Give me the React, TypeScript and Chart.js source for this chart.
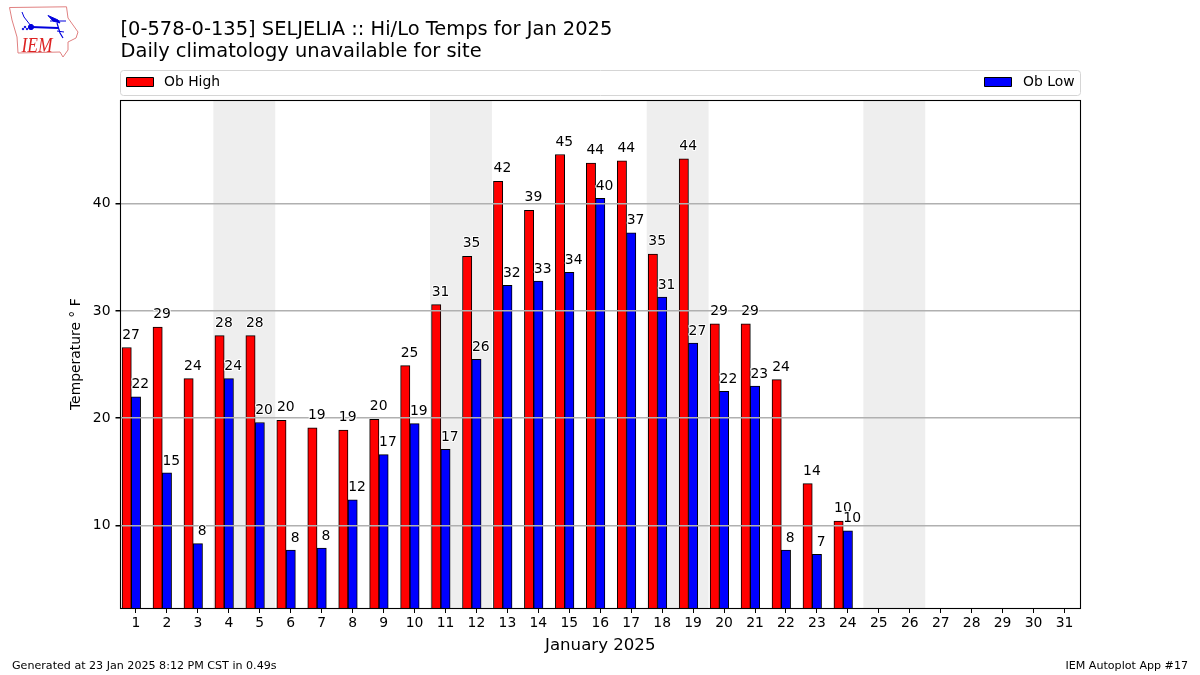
import React, { useEffect, useRef } from "react";
import { Chart, registerables } from "chart.js";

Chart.register(...registerables);

const days = [1,2,3,4,5,6,7,8,9,10,11,12,13,14,15,16,17,18,19,20,21,22,23,24];
const highs = [26.6,28.5,23.7,27.7,27.7,19.8,19.1,18.9,19.9,24.9,30.6,35.1,42.1,39.4,44.6,43.8,44.0,35.3,44.2,28.8,28.8,23.6,13.9,10.4];
const lows = [22.0,14.9,8.3,23.7,19.6,7.7,7.9,12.4,16.6,19.5,17.1,25.5,32.4,32.8,33.6,40.5,37.3,31.3,27.0,22.5,23.0,7.7,7.3,9.5];
const highLabels = [27,29,24,28,28,20,19,19,20,25,31,35,42,39,45,44,44,35,44,29,29,24,14,10];
const lowLabels = [22,15,8,24,20,8,8,12,17,19,17,26,32,33,34,40,37,31,27,22,23,8,7,10];
const weekends = [4,5,11,12,18,19,25,26];
const xTicks = Array.from({ length: 31 }, (_, i) => i + 1);
const yTicks = [10,20,30,40];
const titleLines = ["[0-578-0-135] SELJELIA :: Hi/Lo Temps for Jan 2025", "Daily climatology unavailable for site"];
const footerLeft = "Generated at 23 Jan 2025 8:12 PM CST in 0.49s";
const footerRight = "IEM Autoplot App #17";
const FONT = "'DejaVu Sans'";

const decorations = {
  id: "decorations",
  beforeDraw(chart: any) {
    const { ctx, chartArea: a, scales: { x } } = chart;
    ctx.save();
    ctx.fillStyle = "#eeeeee";
    for (let i = 0; i < weekends.length; i += 2) {
      const l = x.getPixelForValue(weekends[i] - 0.5);
      const r = x.getPixelForValue(weekends[i + 1] + 0.5);
      ctx.fillRect(l, a.top, r - l, a.bottom - a.top);
    }
    ctx.restore();
  },
  afterDraw(chart: any) {
    const { ctx, scales: { x, y } } = chart;
    ctx.save();
    ctx.strokeStyle = "#000";
    ctx.lineWidth = 1.1;
    ctx.strokeRect(120.5, 100.5, 960, 508);

    // value labels
    ctx.font = `13.9px ${FONT}`;
    ctx.textAlign = "center";
    ctx.textBaseline = "middle";
    ctx.lineJoin = "round";
    const put = (txt: string, px: number, py: number) => {
      ctx.strokeStyle = "#fff";
      ctx.lineWidth = 2;
      ctx.strokeText(txt, px, py);
      ctx.fillStyle = "#000";
      ctx.fillText(txt, px, py);
    };
    days.forEach((d, i) => {
      put(String(highLabels[i]), x.getPixelForValue(d - 0.16), y.getPixelForValue(highs[i]) - 12.5);
      put(String(lowLabels[i]), x.getPixelForValue(d + 0.14), y.getPixelForValue(lows[i]) - 12);
    });

    // legend
    ctx.strokeStyle = "#d5d5d5";
    ctx.lineWidth = 1;
    ctx.beginPath();
    ctx.roundRect(120.5, 70.5, 960, 25, 3);
    ctx.stroke();
    ctx.textAlign = "left";
    ctx.font = `13.9px ${FONT}`;
    const ds = chart.data.datasets;
    const swatch = (sx: number, color: string) => {
      ctx.fillStyle = color;
      ctx.fillRect(sx, 77.5, 27, 9);
      ctx.strokeStyle = "#000";
      ctx.strokeRect(sx, 77.5, 27, 9);
    };
    swatch(126.5, "#ff0000");
    ctx.fillStyle = "#000";
    ctx.fillText(ds[0].label, 164, 82);
    swatch(984.5, "#0000ff");
    ctx.fillStyle = "#000";
    ctx.fillText(ds[1].label, 1023, 82);

    // footer
    ctx.font = `11.1px ${FONT}`;
    ctx.fillText(footerLeft, 12, 666);
    ctx.textAlign = "right";
    ctx.fillText(footerRight, 1188, 666);
    ctx.restore();
  },
};

export default function App() {
  const ref = useRef<HTMLCanvasElement>(null);
  useEffect(() => {
    const chart = new Chart(ref.current!, {
      type: "bar",
      data: {
        datasets: [
          {
            label: "Ob High",
            data: days.map((d, i) => ({ x: d - 0.3, y: highs[i] })),
            backgroundColor: "#ff0000",
            borderColor: "#000000",
            borderWidth: 1,
            barThickness: 9.3,
            grouped: false,
          },
          {
            label: "Ob Low",
            data: days.map((d, i) => ({ x: d, y: lows[i] })),
            backgroundColor: "#0000ff",
            borderColor: "#000000",
            borderWidth: 1,
            barThickness: 9.3,
            grouped: false,
          },
        ],
      } as any,
      options: {
        animation: false,
        responsive: false,
        layout: { padding: { left: 60, right: 120, top: 19, bottom: 19 } },
        plugins: {
          legend: { display: false },
          tooltip: { enabled: false },
          title: {
            display: true,
            fullSize: false,
            align: "start",
            text: titleLines,
            color: "#000",
            font: { family: FONT, size: 19.44, weight: "normal", lineHeight: 1.14 },
            padding: { top: 0, bottom: 37 },
          } as any,
        },
        scales: {
          x: {
            type: "linear",
            offset: false,
            min: 0.5,
            max: 31.5,
            afterBuildTicks: (s: any) => { s.ticks = xTicks.map((v) => ({ value: v })); },
            afterFit: (s: any) => { s.height = 48; },
            grid: { offset: false, drawOnChartArea: false, drawTicks: true, tickLength: 5, tickColor: "#000", z: 1 },
            border: { display: false },
            ticks: {
              autoSkip: false,
              maxRotation: 0,
              color: "#000",
              padding: 2,
              font: { family: FONT, size: 13.9 },
              callback: (v: any) => String(v),
            },
            title: {
              display: true,
              text: "January 2025",
              color: "#000",
              font: { family: FONT, size: 16.6 },
              padding: { top: 1, bottom: 0 },
            },
          },
          y: {
            min: 2.3,
            max: 49.65,
            afterBuildTicks: (s: any) => { s.ticks = yTicks.map((v) => ({ value: v })); },
            afterFit: (s: any) => { s.width = 60.5; },
            grid: { color: "#b0b0b0", lineWidth: 1.5, drawTicks: true, tickLength: 5, tickColor: "#000", z: 1 },
            border: { display: false },
            ticks: {
              color: "#000",
              padding: 5,
              font: { family: FONT, size: 13.9 },
              callback: (v: any) => String(v),
            },
            title: {
              display: true,
              text: "Temperature ° F",
              color: "#000",
              font: { family: FONT, size: 13.9 },
              padding: { top: 8, bottom: 6 },
            },
          },
        },
      },
      plugins: [decorations],
    } as any);
    return () => chart.destroy();
  }, []);

  return (
    <div style={{ position: "absolute", left: 0, top: 0, width: 1200, height: 675, background: "#fff" }}>
      <canvas ref={ref} width={1200} height={675} style={{ position: "absolute", left: 0, top: 0 }} />
      <svg width={80} height={60} style={{ position: "absolute", left: 8, top: 5 }} viewBox="8 5 80 60">
        <path d="M9.5 7.5 L66.5 6.8 L68 18 L78 32 L76 38 L68 42 L68 50 L63 57 L60 52 L18 53 L17 37 L12 20 Z" fill="none" stroke="#e08080" strokeWidth={1} />
        <g stroke="#0000dd" fill="#0000dd">
          <line x1={31} y1={27} x2={58} y2={28} strokeWidth={2} />
          <circle cx={31} cy={27} r={2.6} />
          <path d="M31 26 L24 17 L22 12" fill="none" strokeWidth={1} />
          <path d="M48 15.5 L58 20 L60 23 L53 21 Z" />
          <line x1={50} y1={21} x2={66} y2={21} strokeWidth={1} />
          <path d="M57 23 L60 33 L63 38" fill="none" strokeWidth={1.2} />
          <line x1={57} y1={31} x2={64} y2={32} strokeWidth={1} />
          <circle cx={25} cy={27} r={0.8} />
          <circle cx={23} cy={29} r={0.8} />
          <circle cx={27} cy={29} r={0.8} />
        </g>
        <text x={21.5} y={52} fill="#dd2222" fontFamily="'Liberation Serif'" fontStyle="italic" fontSize={22} textLength={31} lengthAdjust="spacingAndGlyphs">IEM</text>
      </svg>
    </div>
  );
}
